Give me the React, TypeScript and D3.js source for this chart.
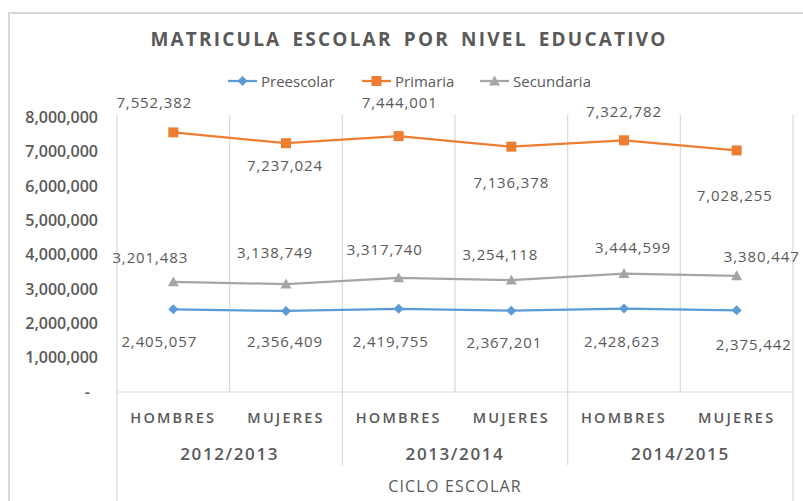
import React from "react";
import * as d3 from "d3";

const years = ["2012/2013", "2013/2014", "2014/2015"];
const genders = ["HOMBRES", "MUJERES"];
const seriesNames = ["Preescolar", "Primaria", "Secundaria"];
const preescolar = [2405057, 2356409, 2419755, 2367201, 2428623, 2375442];
const primaria = [7552382, 7237024, 7444001, 7136378, 7322782, 7028255];
const secundaria = [3201483, 3138749, 3317740, 3254118, 3444599, 3380447];
const yTicks = [0, 1000000, 2000000, 3000000, 4000000, 5000000, 6000000, 7000000, 8000000];

// label placement offsets (layout only) relative to each point: [dx, dy]
const preOffsets = [[-14, 38], [-1, 36], [-8, 38], [-7, 37], [-2, 38], [17, 40]];
const priOffsets = [[-19, -24], [-1, 28], [1, -28], [0, 41], [0, -23], [-2, 51]];
const secOffsets = [[-23, -19], [-11, -26], [-14, -23], [-11, -20], [9, -21], [25, -14]];

const COLORS = { Preescolar: "#5B9BD5", Primaria: "#ED7D31", Secundaria: "#A5A5A5" };
const GRID = "#D9D9D9";
const TEXT = "#595959";
const FONT = "'Open Sans', 'DejaVu Sans', sans-serif";

const W = 803;
const H = 501;
const plot = { left: 117, right: 793, top: 115, bottom: 392 };

function Marker({ type, x, y, color }: { type: string; x: number; y: number; color: string }) {
  if (type === "Preescolar") {
    const s = 5;
    return <path d={`M${x},${y - s}L${x + s},${y}L${x},${y + s}L${x - s},${y}Z`} fill={color} />;
  }
  if (type === "Primaria") {
    const s = 5;
    return <rect x={x - s} y={y - s} width={2 * s} height={2 * s} fill={color} />;
  }
  const s = 5.5;
  return <path d={`M${x},${y - s}L${x + s},${y + s * 0.8}L${x - s},${y + s * 0.8}Z`} fill={color} />;
}

export default function App() {
  const cats = years.flatMap((yr) => genders.map((g) => `${yr}|${g}`));
  const x = d3.scaleBand<string>().domain(cats).range([plot.left, plot.right]).padding(0);
  const bw = x.bandwidth();
  const cx = (i: number) => (x(cats[i]) as number) + bw / 2;
  const y = d3.scaleLinear().domain([0, 8000000]).range([plot.bottom, 117]);
  const fmt = d3.format(",");
  const line = d3
    .line<number>()
    .x((_, i) => cx(i))
    .y((d) => y(d));

  const series = [
    { name: "Preescolar", values: preescolar, offsets: preOffsets },
    { name: "Primaria", values: primaria, offsets: priOffsets },
    { name: "Secundaria", values: secundaria, offsets: secOffsets },
  ];

  const groupW = bw * genders.length;
  const legendItems = [
    { name: seriesNames[0], x0: 228, tx: 261 },
    { name: seriesNames[1], x0: 362, tx: 395 },
    { name: seriesNames[2], x0: 480, tx: 513 },
  ];

  return (
    <svg
      width={W}
      height={H}
      style={{ position: "absolute", left: 0, top: 0, background: "#fff" }}
      fontFamily={FONT}
    >
      <rect x={0} y={0} width={W} height={H} fill="#fff" />
      {/* chart border */}
      <rect x={9} y={13} width={W + 20} height={H + 20} fill="none" stroke={GRID} strokeWidth={2} />

      {/* title */}
      <text
        x={409}
        y={46}
        textAnchor="middle"
        fontSize={19}
        fontWeight={700}
        fill={TEXT}
        letterSpacing={2.2}
        wordSpacing={4}
      >
        MATRICULA ESCOLAR POR NIVEL EDUCATIVO
      </text>

      {/* legend */}
      {legendItems.map((it) => {
        const c = (COLORS as any)[it.name];
        return (
          <g key={it.name}>
            <line x1={it.x0} x2={it.x0 + 29} y1={81} y2={81} stroke={c} strokeWidth={2.25} />
            <Marker type={it.name} x={it.x0 + 14.5} y={81} color={c} />
            <text x={it.tx} y={87} fontSize={15} fill={TEXT} fontWeight={500}>
              {it.name}
            </text>
          </g>
        );
      })}

      {/* vertical gridlines within plot */}
      {cats.map((c, i) => (
        <line
          key={"g" + i}
          x1={(x(c) as number)}
          x2={(x(c) as number)}
          y1={plot.top}
          y2={plot.bottom}
          stroke={GRID}
          strokeWidth={1.2}
        />
      ))}
      <line x1={plot.right} x2={plot.right} y1={plot.top} y2={plot.bottom} stroke={GRID} strokeWidth={1.2} />
      {/* horizontal axis */}
      <line x1={plot.left} x2={plot.right} y1={plot.bottom} y2={plot.bottom} stroke={GRID} strokeWidth={1.2} />
      {/* group separators below axis */}
      {years.map((yr, gi) => {
        const gx = x(`${yr}|${genders[0]}`) as number;
        return (
          <line
            key={"s" + gi}
            x1={gx}
            x2={gx}
            y1={plot.bottom}
            y2={gi === 0 ? H : 465}
            stroke={GRID}
            strokeWidth={1.2}
          />
        );
      })}
      <line x1={plot.right} x2={plot.right} y1={plot.bottom} y2={H} stroke={GRID} strokeWidth={1.2} />

      {/* y axis labels */}
      {yTicks.map((t) => (
        <text
          key={"y" + t}
          x={t === 0 ? 90 : 98}
          y={y(t)}
          dy="0.36em"
          textAnchor="end"
          fontSize={16}
          fontWeight={600}
          fill={TEXT}
        >
          {t === 0 ? "-" : fmt(t)}
        </text>
      ))}

      {/* category labels */}
      {cats.map((c, i) => (
        <text
          key={"c" + i}
          x={cx(i)}
          y={423}
          textAnchor="middle"
          fontSize={14.5}
          fontWeight={600}
          fill={TEXT}
          letterSpacing={2.2}
        >
          {c.split("|")[1]}
        </text>
      ))}
      {years.map((yr, gi) => {
        const gx = x(`${yr}|${genders[0]}`) as number;
        return (
          <text
            key={"yr" + gi}
            x={gx + groupW / 2}
            y={460}
            textAnchor="middle"
            fontSize={17}
            fontWeight={600}
            fill={TEXT}
            letterSpacing={1.6}
          >
            {yr}
          </text>
        );
      })}
      <text x={455} y={492} textAnchor="middle" fontSize={16} fontWeight={500} fill={TEXT} letterSpacing={1.2}>
        CICLO ESCOLAR
      </text>

      {/* series */}
      {series.map((s) => {
        const c = (COLORS as any)[s.name];
        return (
          <g key={s.name}>
            <path d={line(s.values) as string} fill="none" stroke={c} strokeWidth={2.25} strokeLinejoin="round" />
            {s.values.map((v, i) => (
              <Marker key={i} type={s.name} x={cx(i)} y={y(v)} color={c} />
            ))}
          </g>
        );
      })}

      {/* data labels */}
      {series.map((s) =>
        s.values.map((v, i) => (
          <text
            key={s.name + "l" + i}
            x={cx(i) + s.offsets[i][0]}
            y={y(v) + s.offsets[i][1]}
            textAnchor="middle"
            fontSize={15}
            fill={TEXT}
            letterSpacing={0.9}
          >
            {fmt(v)}
          </text>
        ))
      )}
    </svg>
  );
}
